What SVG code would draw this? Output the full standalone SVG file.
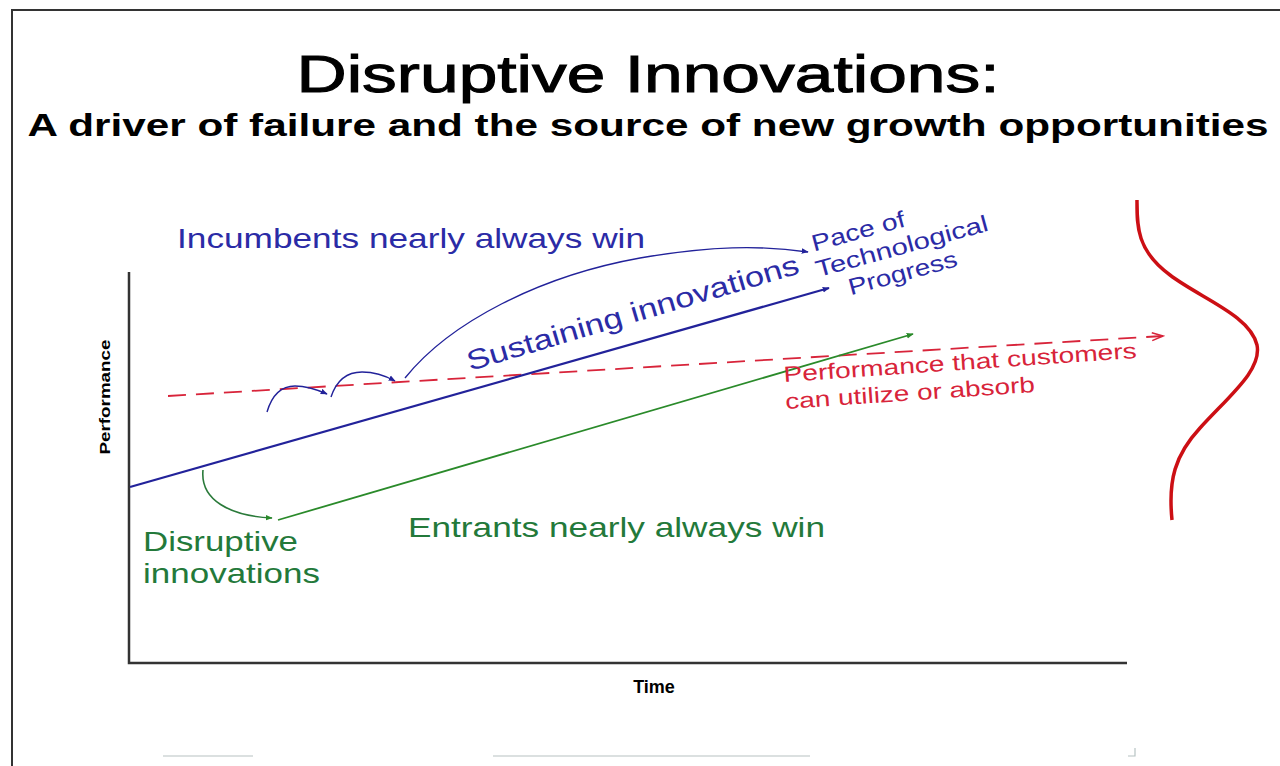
<svg xmlns="http://www.w3.org/2000/svg" width="1280" height="766" viewBox="0 0 1280 766">
<style>
text{font-family:"Liberation Sans",Arial,sans-serif}
.blue{fill:#2b2ba6}
.green{fill:#23793a}
.red{fill:#d8243a}
.axis{stroke:#333;stroke-width:2.5;fill:none}
</style>
<defs>
<marker id="ab" viewBox="0 0 10 10" refX="9" refY="5" markerWidth="7" markerHeight="7" orient="auto" markerUnits="userSpaceOnUse"><path d="M0,1 L10,5 L0,9 z" fill="#22229a"/></marker>
<marker id="ag" viewBox="0 0 10 10" refX="9" refY="5" markerWidth="7" markerHeight="7" orient="auto" markerUnits="userSpaceOnUse"><path d="M0,1 L10,5 L0,9 z" fill="#2a8a2a"/></marker>
<marker id="ar" viewBox="0 0 12 10" refX="11" refY="5" markerWidth="14" markerHeight="10" orient="auto" markerUnits="userSpaceOnUse"><path d="M0,1 L11,5 L0,9" fill="none" stroke="#d8243a" stroke-width="1.5"/></marker>
</defs>
<rect width="1280" height="766" fill="#fff"/>
<path d="M12,766 V10 H1280" fill="none" stroke="#333" stroke-width="2"/>

<g id="title">
<text x="648" y="92" font-size="52" text-anchor="middle" stroke="#000" stroke-width="1" textLength="703" lengthAdjust="spacingAndGlyphs">Disruptive Innovations:</text>
<text x="648" y="136" font-size="31" font-weight="bold" text-anchor="middle" textLength="1241" lengthAdjust="spacingAndGlyphs">A driver of failure and the source of new growth opportunities</text>
</g>

<g id="axes">
<path class="axis" d="M129,272 V663 H1127"/>
<text x="110" y="397" font-size="15" font-weight="bold" text-anchor="middle" transform="rotate(-90 110 397)" textLength="115" lengthAdjust="spacingAndGlyphs">Performance</text>
<text x="654" y="693" font-size="18" font-weight="bold" text-anchor="middle">Time</text>
</g>

<g id="connectors" fill="none">
<path d="M168,396 L1163,336" stroke="#d8243a" stroke-width="1.8" stroke-dasharray="18,10" marker-end="url(#ar)"/>
<path d="M130,487 L829,288" stroke="#22229a" stroke-width="2.2" marker-end="url(#ab)"/>
<path d="M278,520 L913,334" stroke="#2a8a2a" stroke-width="1.8" marker-end="url(#ag)"/>
<path d="M203,470 C200,500 230,516 272,518" stroke="#2a7a3a" stroke-width="1.6" marker-end="url(#ag)"/>
<path d="M267,412 C272,395 282,386 295,386 C308,386 318,390 327,394" stroke="#22229a" stroke-width="1.4" marker-end="url(#ab)"/>
<path d="M331,397 C336,382 346,372 362,372 C376,372 386,376 395,381" stroke="#22229a" stroke-width="1.4" marker-end="url(#ab)"/>
<path d="M405,378 C450,322 540,276 640,258 C710,246 760,245 808,252" stroke="#22229a" stroke-width="1.4" marker-end="url(#ab)"/>
<path d="M1137,200 C1137,225 1136,250 1170,275 C1200,298 1250,315 1257,345 C1262,370 1230,395 1200,428 C1175,455 1168,480 1172,520" stroke="#cc0f14" stroke-width="3.5"/>
</g>

<g id="labels">
<text class="blue" x="177" y="248" font-size="28" textLength="468" lengthAdjust="spacingAndGlyphs">Incumbents nearly always win</text>
<text class="blue" x="470" y="371" font-size="28" transform="rotate(-16.5 470 371)" textLength="345" lengthAdjust="spacingAndGlyphs">Sustaining innovations</text>
<g transform="rotate(-15.3 812 252)">
<text class="blue" x="814" y="252" font-size="23" textLength="96" lengthAdjust="spacingAndGlyphs">Pace of</text>
<text class="blue" x="811" y="278" font-size="23" textLength="178" lengthAdjust="spacingAndGlyphs">Technological</text>
<text class="blue" x="838" y="304" font-size="23" textLength="112" lengthAdjust="spacingAndGlyphs">Progress</text>
</g>
<g transform="rotate(-3.9 784 382)">
<text class="red" x="784" y="382" font-size="22" textLength="354" lengthAdjust="spacingAndGlyphs">Performance that customers</text>
<text class="red" x="784" y="409" font-size="22" textLength="250" lengthAdjust="spacingAndGlyphs">can utilize or absorb</text>
</g>
<text class="green" x="143" y="551" font-size="28" textLength="155" lengthAdjust="spacingAndGlyphs">Disruptive</text>
<text class="green" x="143" y="583" font-size="28" textLength="177" lengthAdjust="spacingAndGlyphs">innovations</text>
<text class="green" x="408" y="537" font-size="28" textLength="417" lengthAdjust="spacingAndGlyphs">Entrants nearly always win</text>
</g>

<g id="footer" stroke="#9aa" stroke-width="1.2" opacity="0.7">
<path d="M163,756 H253 M493,756 H810"/>
<path d="M1135,748 V756 H1128" fill="none"/>
</g>
</svg>
